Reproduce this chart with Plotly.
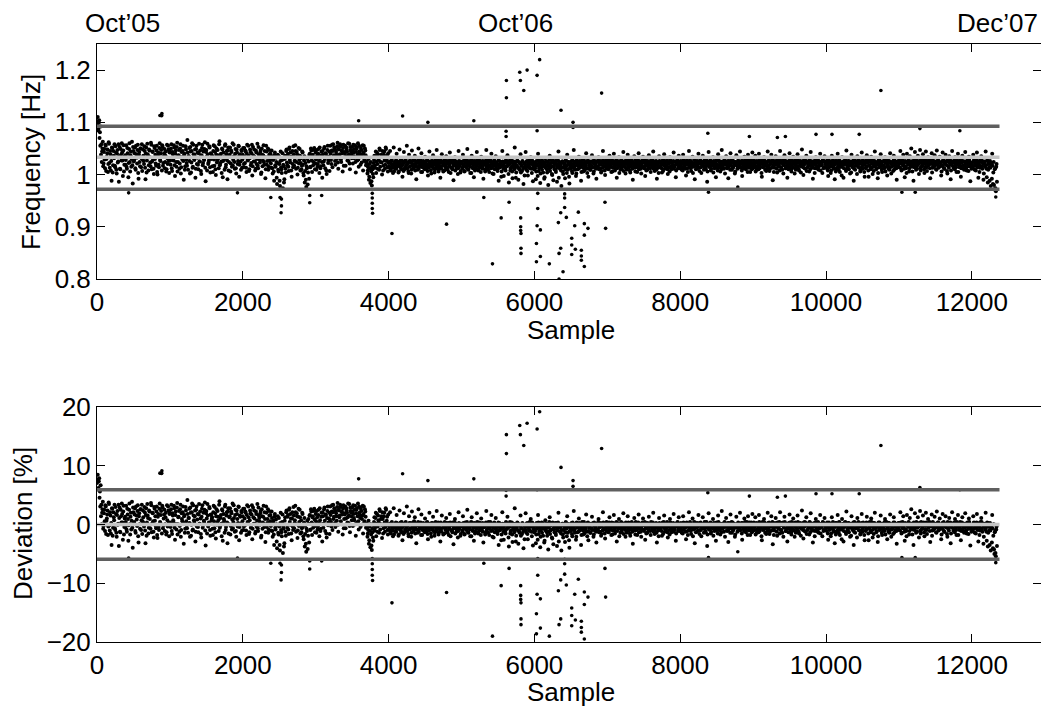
import plotly.graph_objects as go

# ---------------- data ----------------
# Frequency readings of the dense band, stored as the offset from 1 Hz in mHz
# (f = 1 + v/1000). Set A: samples 0, 10, 20, ...; set B: samples 5, 15, 25, ...
# One list per 1000 samples.
band_a_00k = [96, 110, 87, 104, 81, 92, 58, 44, 63, 21,
              49, 12, 55, 30, 41, 5, 62, 22, 45, 8,
              -12, 51, 18, 36, 58, 14, 42, 2, 47, 25,
              -14, 53, 10, 38, 60, 27, 46, 6, 34, 19,
              56, 11, 41, -5, 49, 24, 37, 15, 63, -17,
              45, 28, 52, 9, 39, 21, 57, -8, 43, 16,
              50, 31, 7, 48, 26, 54, 13, 40, 4, 59,
              35, 18, 46, 23, 61, 10, 44, 29, 1, 51,
              38, 17, 55, 0, 42, 14, 60, 26, 47, 8,
              53, 22, 41, 12, 36, 6, 57, 20, 48, 3]
band_a_01k = [44, 19, 58, 7, 39, 27, 52, -3, 46, 15,
              61, 24, 37, 11, 50, 2, 43, 29, 55, -10,
              40, 16, 48, 22, 66, 9, 35, 26, 53, 4,
              45, 13, 57, 31, 38, -6, 49, 20, 42, 10,
              59, 25, 34, 1, 51, 18, 44, 28, 62, -13,
              47, 8, 39, 23, 54, 14, 41, 30, 36, 5,
              56, 17, 43, -1, 50, 27, 37, 12, 64, 21,
              40, 3, 48, 26, 33, 9, 58, 19, 45, -9,
              52, 24, 38, 6, 46, 15, 60, 28, 35, 11,
              49, 2, 42, 20, 55, -4, 39, 25, 47, 13]
band_a_02k = [38, 14, 51, 22, 44, 5, 57, 27, 36, 10,
              48, 18, 41, -2, 53, 25, 34, 8, 46, 20,
              59, 12, 39, 29, 43, 1, 50, 16, 37, 24,
              45, -7, 55, 19, 33, 9, 47, 26, 40, 13,
              35, 2, 30, -12, 42, 15, 24, -18, 38, 6,
              20, -22, 44, 10, 28, -26, 16, -9, 36, 4,
              48, 18, 40, 7, 52, 23, 34, -4, 45, 14,
              39, 26, 56, 11, 43, 0, 37, 21, 49, 8,
              31, 17, 42, 3, 27, -15, 22, -24, 12, -19,
              33, -8, 40, 15, 46, 5, 38, 24, 51, 10]
band_a_03k = [42, 9, 36, 20, 49, 3, 31, 16, 44, -6,
              38, 25, 53, 12, 40, 1, 47, 22, 34, 7,
              55, 28, 46, 14, 58, 37, 50, 19, 43, 30,
              61, 11, 48, 39, 54, 24, 45, 6, 57, 33,
              41, 17, 52, 44, 36, 26, 59, 10, 47, 38,
              53, 21, 42, 31, 56, 4, 49, 27, 60, 15,
              44, 35, 51, 23, 39, 8, 55, 29, 46, 18,
              25, 2, 14, -10, 20, -16, 6, -21, 10, -5,
              28, 13, 35, 3, 42, 20, 31, 9, 47, 24,
              38, 0, 33, 17, 44, 11, 52, 26, 37, 6]
band_a_04k = [22, 14, 45, 8, 26, 18, 3, 52, 20, 11,
              27, 40, 16, 24, 6, 48, 19, 13, 28, -4,
              21, 43, 10, 25, 17, 55, 23, 7, 38, 15,
              26, 2, 46, 20, 12, 29, 36, 18, -9, 24,
              9, 50, 22, 16, 27, 41, 5, 19, 25, 13,
              34, 21, 11, 28, -2, 17, 44, 23, 8, 26,
              15, 37, 20, 4, 24, 12, 47, 18, 27, 10,
              22, -6, 16, 39, 25, 6, 19, 28, 14, 35,
              21, 9, 26, 17, 42, 3, 23, 13, 27, -11,
              18, 33, 24, 11, 20, 1, 45, 16, 25, 7]
band_a_05k = [24, 13, 38, 19, 6, 27, 16, 22, 49, 10,
              25, 18, 3, 28, 36, 14, 21, -5, 26, 11,
              17, 43, 23, 8, 27, 15, 20, 34, 12, 26,
              -8, 19, 24, 9, 47, 22, 16, 28, 5, 18,
              25, 40, 13, 21, 1, 27, 17, 35, 23, 10,
              19, -12, 26, 14, 22, 6, 45, 18, -3, 24,
              11, 28, 16, 37, 20, -15, 25, 8, 13, 27,
              -7, 21, 15, 52, 24, 4, 18, 26, -10, 12,
              22, 39, 17, 7, 25, -18, 14, 20, 43, 9,
              26, -2, 19, 13, 23, 33, 11, 27, -13, 16]
band_a_06k = [21, 12, -9, 26, 17, 40, 7, 23, -16, 14,
              27, 19, 4, 24, -5, 31, 16, 10, 25, -20,
              18, 36, 13, 22, 1, 27, -11, 15, 20, 8,
              26, -14, 17, 44, 23, 11, 19, -22, 25, 6,
              14, 21, -7, 28, 16, 38, 9, 24, -17, 18,
              12, 26, 3, 20, 47, 15, 23, -3, 27, 10,
              19, 34, 13, 25, -12, 17, 22, 6, 28, 14,
              21, 41, 11, 26, -4, 18, 24, 9, 16, 37,
              23, 2, 27, 13, 20, -8, 25, 15, 33, 19,
              11, 26, 7, 22, 45, 17, 24, -1, 14, 28]
band_a_07k = [18, 25, 11, 36, 22, 15, 27, 6, 20, 40,
              13, 24, 19, -6, 26, 16, 33, 21, 9, 28,
              14, 23, 43, 17, 25, 2, 20, 12, 38, 27,
              19, 8, 24, 15, 26, -10, 21, 35, 13, 28,
              18, 5, 23, 41, 16, 25, 11, 20, 27, 34,
              14, 22, -3, 26, 17, 9, 24, 37, 19, 12,
              28, 21, 15, 44, 23, 7, 18, 26, -8, 20,
              13, 35, 25, 16, 22, 4, 27, 19, 39, 11,
              24, 17, 28, 1, 21, 14, 33, 26, 10, 23,
              18, 42, 15, 25, -5, 20, 27, 12, 36, 22]
band_a_08k = [16, 26, 9, 21, 38, 14, 24, 19, -2, 27,
              12, 22, 45, 17, 25, 7, 20, 34, 15, 28,
              -9, 23, 18, 11, 26, 40, 21, 14, 27, 3,
              19, 36, 24, 16, 22, 10, 28, -14, 20, 43,
              15, 25, 8, 23, 17, 33, 26, 12, 21, -5,
              27, 18, 39, 14, 24, 6, 20, 47, 16, 25,
              11, 28, 22, 35, 13, 19, -7, 26, 17, 41,
              23, 9, 27, 15, 21, 2, 24, 37, 18, 12,
              25, 20, 44, 14, 26, -3, 22, 16, 34, 28,
              10, 19, 24, 38, 13, 27, 5, 21, 17, 42]
band_a_09k = [20, 27, 14, 36, 23, 9, 25, 17, 40, 12,
              26, 21, -4, 28, 15, 33, 19, 24, 7, 22,
              44, 16, 27, 11, 20, 38, 25, -11, 18, 13,
              26, 35, 21, 4, 24, 17, 28, 45, 14, 22,
              9, 27, 19, 37, 25, 12, 23, -6, 16, 26,
              41, 20, 10, 28, 15, 34, 22, 2, 27, 18,
              13, 39, 24, 8, 21, 26, 16, 48, 23, -1,
              19, 28, 11, 36, 25, 14, 22, 6, 27, 43,
              17, 24, -8, 20, 26, 12, 33, 23, 15, 28,
              9, 21, 40, 18, 25, 3, 27, 14, 35, 22]
band_a_10k = [24, 12, 19, -3, 27, 16, 22, 8, 36, 25,
              14, 20, -9, 26, 11, 23, 40, 17, 28, 5,
              21, 15, 33, 24, -6, 19, 27, 10, 46, 22,
              13, 26, 18, 2, 25, 38, 16, 21, -12, 28,
              9, 23, 17, 35, 26, 14, 20, 6, 24, 42,
              11, 27, 19, -4, 22, 15, 37, 25, 8, 18,
              28, 13, 34, 21, 1, 26, 16, 44, 23, 10,
              19, -7, 27, 14, 24, 39, 20, 5, 25, 17,
              12, 33, 22, 28, -2, 18, 26, 9, 41, 21,
              15, 24, 7, 36, 27, 13, 20, -10, 23, 16]
band_a_11k = [26, 14, 45, 21, 9, 28, 38, 17, -5, 24,
              12, 40, 22, 27, 6, 35, 19, 50, 25, 15,
              -12, 23, 43, 18, 28, 11, 36, 20, 26, 47,
              8, 24, 16, 39, 27, 3, 21, 44, 14, 25,
              33, 19, 28, -7, 22, 41, 13, 26, 17, 37,
              24, 10, 46, 20, 27, 15, 34, 23, -2, 18,
              42, 26, 11, 21, 38, 25, 7, 28, 16, 35,
              22, -9, 19, 45, 24, 13, 27, 33, 17, 5,
              26, 40, 20, 14, 28, -4, 23, 36, 18, 11,
              25, 43, 21, 8, 27, 16, 34, 24, -13, 19]
band_a_12k = [22, 15, 38, 27, 9, 24, 18, 42, 26, -6,
              20, 13, 28, 35, 16, 23, -10, 25, 19, 44,
              11, 27, -15, 21, 14, 26, -22, 18, 40, -18,
              24, -28, 12, -32, 20]

band_b_00k = [102, 85, 99, 70, 55, 38, 24, 50, 16, 43,
              29, 57, 7, 34, 48, 20, 59, 13, 39, 26,
              52, 4, 45, 31, 17, 54, 9, 40, 23, 58,
              35, 11, 49, 27, 42, -3, 56, 19, 37, 28,
              15, 51, 33, 22, 60, 6, 44, 30, 18, 53,
              25, 41, 12, 55, 32, 47, 3, 38, 24, 50,
              14, 58, 29, 36, 20, 45, -9, 52, 27, 39,
              8, 48, 33, 16, 57, 25, 43, 11, 54, 30,
              21, 46, 5, 37, 19, 51, 28, 40, 113, 56,
              17, 34, 49, 24, 44, 10, 31, 55, 26, 42]
band_b_01k = [27, 50, 12, 43, 31, 56, 18, 40, 24, 53,
              6, 36, 47, 21, 58, 14, 33, 45, 26, 38,
              9, 54, 29, 17, 42, 35, 51, 2, 44, 23,
              60, 15, 39, 28, 48, 11, 55, 32, 19, 41,
              25, 46, 7, 37, 57, 22, 30, 49, 13, 43,
              34, 59, 20, 27, 52, 4, 40, 33, 16, 45,
              29, 54, 10, 38, 23, 47, 31, 58, 18, 35,
              25, 50, -5, 42, 30, 55, 14, 39, 27, 46,
              8, 36, 52, 21, 43, 32, 17, 57, 24, 40,
              12, 48, 33, 26, 54, 19, 37, 9, 45, 29]
band_b_02k = [51, 20, 34, 46, 13, 40, 28, 55, 7, 31,
              43, 22, 57, 16, 36, 48, 25, 11, 42, 30,
              17, 53, 35, 23, 47, 4, 38, 27, 56, 19,
              33, 10, 44, 26, 50, 15, 39, 29, 21, 46,
              12, 28, 6, 37, 18, 32, -6, 22, 9, 35,
              -12, 26, 14, 3, 41, 19, -15, 30, 11, 45,
              23, 37, 15, 49, 28, 42, 8, 34, 20, 54,
              17, 31, 45, 24, 38, 13, 51, 28, 36, 22,
              10, 44, 19, -2, 35, 7, -10, 16, 30, 4,
              25, 39, 14, 50, 27, 36, 18, 47, 32, 21]
band_b_03k = [29, 47, 15, 40, 26, 52, 12, 37, 24, 45,
              18, 50, 30, 41, 8, 35, 55, 27, 44, 32,
              40, 20, 57, 45, 33, 52, 26, 47, 38, 54,
              23, 49, 36, 58, 29, 46, 41, 51, 17, 43,
              55, 34, 48, 27, 60, 39, 21, 53, 44, 31,
              46, 57, 35, 49, 24, 43, 52, 38, 29, 55,
              40, 19, 47, 33, 56, 42, 26, 50, 37, 22,
              18, 8, 30, -4, 12, 24, -13, 16, 1, 22,
              36, 18, 44, 25, 11, 39, 28, 50, 15, 33,
              23, 45, 8, 38, 27, 19, 49, 30, 14, 41]
band_b_04k = [16, 25, 9, 21, 28, 13, 19, 6, 24, 17,
              11, 26, 20, 4, 23, 15, 27, 10, 18, 22,
              7, 25, 14, 28, 19, 12, 21, 3, 26, 16,
              23, 9, 18, 27, 13, 20, 8, 25, 15, 22,
              28, 11, 17, 24, 5, 21, 14, 26, 19, 10,
              23, 16, 27, 7, 20, 13, 25, 18, 2, 22,
              26, 12, 19, 9, 28, 15, 21, 24, 6, 17,
              14, 27, 11, 23, 18, 25, 8, 20, 16, 26,
              12, 22, 5, 19, 27, 14, 24, 10, 21, 17,
              28, 8, 25, 15, 22, 12, 26, 19, 4, 23]
band_b_05k = [20, 11, 26, 17, 7, 23, 14, 28, 19, 9,
              24, 15, 21, 3, 27, 12, 18, 25, 8, 22,
              16, 28, 10, 20, 13, 26, 5, 23, 17, 11,
              25, 19, 6, 27, 14, 21, 9, 24, 16, 28,
              12, 22, 2, 18, 26, 10, 23, 15, 20, 7,
              27, 13, 19, 24, -4, 17, 25, 11, 21, 14,
              8, 26, 16, 22, 1, 19, 28, 12, 23, 6,
              18, 25, 10, 20, -6, 15, 27, 13, 24, 9,
              21, 4, 17, 26, 11, 22, -2, 19, 14, 25,
              7, 23, 16, 28, 12, 20, 3, 24, 18, 10]
band_b_06k = [15, 24, 6, 20, -3, 27, 12, 18, 2, 23,
              9, 26, 16, -8, 21, 13, 25, 4, 19, 11,
              28, 7, 22, 15, -1, 24, 17, 10, 26, 5,
              20, 13, 27, -6, 18, 23, 8, 14, 25, 1,
              21, 16, 10, 26, 3, 19, 24, -4, 12, 22,
              17, 7, 27, 14, 20, 9, 25, 2, 18, 23,
              11, 26, 15, 21, 5, 28, 13, 19, 8, 24,
              16, 22, 3, 27, 12, 20, 9, 25, 17, 14,
              26, 6, 21, 18, 11, 24, 15, 28, 10, 22,
              19, 4, 25, 13, 27, 16, 8, 23, 20, 12]
band_b_07k = [22, 10, 27, 15, 19, 5, 24, 13, 26, 17,
              8, 21, 28, 12, 23, 16, 3, 25, 18, 11,
              26, 20, 7, 24, 14, 27, 9, 22, 17, 13,
              25, 4, 19, 28, 11, 23, 16, 21, 6, 26,
              14, 20, 27, 10, 24, 18, 2, 22, 15, 25,
              12, 28, 17, 8, 21, 26, 13, 19, 24, 5,
              23, 16, 27, 11, 20, 14, 25, 9, 22, 18,
              3, 26, 15, 21, 12, 24, 7, 28, 17, 19,
              13, 25, 10, 23, 20, 6, 27, 16, 22, 14,
              26, 11, 18, 24, 8, 21, 28, 15, 19, 12]
band_b_08k = [25, 14, 20, 8, 27, 17, 23, 11, 19, 26,
              5, 22, 15, 28, 12, 24, 18, 3, 21, 16,
              27, 10, 25, 19, 13, 22, 7, 26, 14, 20,
              24, 17, 9, 28, 12, 23, 18, 6, 25, 15,
              21, 27, 11, 19, 24, 4, 22, 16, 26, 13,
              20, 8, 28, 18, 14, 25, 10, 23, 17, 21,
              27, 2, 19, 24, 12, 26, 15, 22, 9, 20,
              28, 16, 13, 25, 18, 6, 23, 21, 11, 27,
              17, 24, 14, 20, 8, 26, 19, 12, 25, 22,
              15, 28, 5, 21, 18, 24, 13, 27, 10, 20]
band_b_09k = [13, 24, 19, 6, 26, 15, 22, 10, 28, 17,
              21, 3, 25, 14, 20, 27, 9, 23, 16, 12,
              26, 18, 7, 24, 21, 13, 28, 15, 5, 22,
              19, 25, 11, 27, 16, 20, 8, 24, 14, 26,
              22, 2, 18, 28, 12, 25, 17, 21, 10, 23,
              27, 15, 6, 20, 24, 13, 26, 19, 9, 22,
              16, 28, 11, 25, 18, 4, 23, 20, 14, 27,
              12, 21, 26, 7, 24, 17, 19, 28, 10, 22,
              15, 25, 13, 20, 3, 27, 18, 23, 11, 26,
              16, 21, 8, 24, 19, 28, 12, 25, 14, 20]
band_b_10k = [18, 27, 8, 22, 14, 25, 3, 20, 16, 28,
              11, 24, 19, 6, 26, 13, 21, 9, 27, 15,
              23, -2, 18, 25, 12, 20, 28, 7, 22, 16,
              26, 10, 19, 24, 4, 21, 14, 27, 11, 23,
              17, 25, 1, 20, 28, 13, 22, 8, 26, 15,
              19, 24, 5, 21, 12, 27, 16, 23, -4, 18,
              25, 10, 28, 14, 20, 7, 26, 17, 22, 12,
              24, 3, 19, 27, 15, 21, 9, 25, 18, 13,
              28, 6, 23, 16, 20, 11, 26, 14, 24, 2,
              21, 17, 27, 9, 22, 19, 12, 25, 15, 26]
band_b_11k = [21, 13, 27, 8, 24, 17, 20, 11, 26, 15,
              3, 23, 19, 28, 12, 22, 16, 25, 6, 20,
              27, 14, 21, 9, 26, 18, 24, 1, 22, 13,
              28, 16, 19, 25, 10, 23, 15, 27, 7, 21,
              18, 26, 12, 24, 20, 4, 28, 14, 22, 17,
              25, 9, 19, 27, 13, 23, 16, 21, 6, 26,
              15, 28, 11, 20, 24, 18, 2, 25, 13, 22,
              27, 8, 19, 23, 16, 26, 10, 21, 14, 28,
              20, 5, 24, 17, 22, 12, 27, 15, 25, 9,
              18, 23, 13, 26, 20, 7, 28, 16, 21, 11]
band_b_12k = [23, 12, 26, 17, 20, 8, 27, 14, 22, 19,
              5, 25, 16, 28, 11, 21, 2, 24, 15, 18,
              -5, 26, 9, 20, -12, 13, 22, -8, 17, 4,
              -20, 10, -26, 15, -14]
band_step = 10        # samples between consecutive readings of one set
band_b_offset = 5     # set B starts 5 samples after set A

# Isolated readings outside the band: sample number and frequency [Hz]
outlier_sample = [890, 863, 434, 1927, 2384, 2511, 2530, 2530, 2525, 2918,
                  2918, 3082, 3589, 3776, 3776, 3776, 3776, 3780, 4046, 4192,
                  4539, 4795, 5169, 5306, 5425, 5544, 5612, 5612, 5616, 5616,
                  5653, 5799, 5808, 5812, 5812, 5812, 5816, 5816, 5816, 5854,
                  5900, 6028, 6028, 6037, 6037, 6037, 6046, 6046, 6072, 6082,
                  6082, 6205, 6329, 6338, 6338, 6361, 6361, 6365, 6393, 6415,
                  6415, 6415, 6438, 6512, 6512, 6512, 6530, 6530, 6553, 6562,
                  6603, 6644, 6644, 6644, 6685, 6685, 6685, 6735, 6922, 6968,
                  6977, 8379, 8388, 8790, 8949, 9333, 9443, 9863, 10082, 10456,
                  10753, 11041, 11224, 11288, 11836, 12329]
outlier_freq = [1.117, 1.113, 0.965, 0.965, 0.956, 0.956, 0.953, 0.940, 0.927, 0.960,
                0.946, 0.960, 1.103, 0.964, 0.955, 0.945, 0.935, 0.926, 0.887, 1.112,
                1.100, 0.905, 1.103, 0.956, 0.829, 0.917, 1.083, 1.073, 1.180, 1.147,
                0.947, 1.196, 1.180, 0.917, 0.900, 0.893, 0.887, 0.859, 0.849, 1.161,
                1.200, 0.868, 0.833, 1.190, 1.084, 0.902, 0.964, 0.935, 1.220, 0.894,
                0.843, 0.829, 0.908, 0.849, 0.800, 0.859, 0.927, 1.123, 0.814, 0.937,
                0.963, 0.955, 0.918, 0.878, 0.865, 0.847, 1.100, 1.090, 0.902, 0.857,
                0.928, 0.855, 0.844, 0.836, 0.884, 0.906, 0.824, 0.897, 1.156, 0.947,
                0.897, 1.079, 0.966, 0.976, 1.073, 1.071, 1.073, 1.077, 1.077, 1.077,
                1.161, 0.966, 0.966, 1.088, 1.084, 0.957]

deviation_reference_hz = 1.0235        # frequency that the deviation is taken from
freq_mean_line = 1.033                 # light grey line, top panel
freq_limit_lines = [1.0925, 0.972]     # dark grey lines, top panel
dev_mean_line = 0.0                    # light grey line, bottom panel
dev_limit_lines = [5.9, -5.9]          # dark grey lines, bottom panel
line_samples = [0, 12380]              # extent of the reference lines

x_tickvals = [0, 2000, 4000, 6000, 8000, 10000, 12000]
freq_tickvals = [0.8, 0.9, 1.0, 1.1, 1.2]
freq_ticktext = ["0.8", "0.9", "1", "1.1", "1.2"]
dev_tickvals = [-20, -10, 0, 10, 20]
date_labels = ["Oct\u201905", "Oct\u201906", "Dec\u201907"]

# ---------------- assemble ----------------
band_a = (band_a_00k + band_a_01k + band_a_02k + band_a_03k + band_a_04k +
          band_a_05k + band_a_06k + band_a_07k + band_a_08k + band_a_09k +
          band_a_10k + band_a_11k + band_a_12k)
band_b = (band_b_00k + band_b_01k + band_b_02k + band_b_03k + band_b_04k +
          band_b_05k + band_b_06k + band_b_07k + band_b_08k + band_b_09k +
          band_b_10k + band_b_11k + band_b_12k)
band_sample = ([i * band_step for i in range(len(band_a))] +
               [i * band_step + band_b_offset for i in range(len(band_b))])
band_freq = [1.0 + v / 1000.0 for v in band_a + band_b]

def to_dev(freqs):
    return [(f / deviation_reference_hz - 1.0) * 100.0 for f in freqs]

W, H = 1041, 707
L = 97
px_per_sample = 0.0729
x_max = (W - L) / px_per_sample

def py(p):  # pixel row -> paper y
    return 1 - p / H

def px(p):  # pixel column -> paper x
    return (p - L) / (W - L)

FONT = "Liberation Sans, Arial, Helvetica, sans-serif"
DARK = "#5f5f5f"
LIGHT = "#c4c4c4"

fig = go.Figure()

band_marker = dict(color="black", size=4, line=dict(width=0))
out_marker = dict(color="black", size=3.6, line=dict(width=0))
for xa, ya, conv in (("x", "y", lambda v: v), ("x2", "y2", to_dev)):
    fig.add_trace(go.Scatter(x=band_sample, y=conv(band_freq), mode="markers",
                             marker=band_marker, xaxis=xa, yaxis=ya,
                             showlegend=False, hoverinfo="skip"))
    fig.add_trace(go.Scatter(x=outlier_sample, y=conv(outlier_freq), mode="markers",
                             marker=out_marker, xaxis=xa, yaxis=ya,
                             showlegend=False, hoverinfo="skip"))

for val in freq_limit_lines:
    fig.add_trace(go.Scatter(x=line_samples, y=[val, val], mode="lines",
                             line=dict(color=DARK, width=3.5), xaxis="x", yaxis="y",
                             showlegend=False, hoverinfo="skip"))
fig.add_trace(go.Scatter(x=line_samples, y=[freq_mean_line] * 2, mode="lines",
                         line=dict(color=LIGHT, width=3.5), xaxis="x", yaxis="y",
                         showlegend=False, hoverinfo="skip"))
for val in dev_limit_lines:
    fig.add_trace(go.Scatter(x=line_samples, y=[val, val], mode="lines",
                             line=dict(color=DARK, width=3.5), xaxis="x2", yaxis="y2",
                             showlegend=False, hoverinfo="skip"))
fig.add_trace(go.Scatter(x=line_samples, y=[dev_mean_line] * 2, mode="lines",
                         line=dict(color=LIGHT, width=3.5), xaxis="x2", yaxis="y2",
                         showlegend=False, hoverinfo="skip"))

axis_common = dict(showline=True, linecolor="black", linewidth=1, mirror="ticks",
                   ticks="inside", ticklen=8, tickwidth=1, tickcolor="black",
                   showgrid=False, zeroline=False, automargin=False)
xfont = dict(family=FONT, size=26, color="black")
yfont = dict(family=FONT, size=26, color="black")

fig.update_layout(
    template="none",
    width=W, height=H,
    margin=dict(l=L, r=0, t=0, b=0, pad=0, autoexpand=False),
    paper_bgcolor="white", plot_bgcolor="white",
    xaxis=dict(axis_common, domain=[0, 1], anchor="y", range=[0, x_max],
               tickvals=x_tickvals, ticktext=[str(v) for v in x_tickvals],
               tickfont=xfont),
    yaxis=dict(axis_common, domain=[py(279), py(44)], anchor="x", range=[0.8, 1.25],
               tickvals=freq_tickvals, ticktext=freq_ticktext, tickfont=yfont),
    xaxis2=dict(axis_common, domain=[0, 1], anchor="y2", range=[0, x_max],
                tickvals=x_tickvals, ticktext=[str(v) for v in x_tickvals],
                tickfont=xfont),
    yaxis2=dict(axis_common, domain=[py(642), py(407)], anchor="x2", range=[-20, 20],
                tickvals=dev_tickvals,
                ticktext=["\u221220", "\u221210", "0", "10", "20"], tickfont=yfont),
)

ann_font = dict(family=FONT, size=26, color="black")
anns = [
    dict(text="Sample", x=px(571), y=py(330), xref="paper", yref="paper",
         xanchor="center", yanchor="middle", showarrow=False, font=ann_font),
    dict(text="Sample", x=px(571), y=py(692), xref="paper", yref="paper",
         xanchor="center", yanchor="middle", showarrow=False, font=ann_font),
    dict(text="Frequency [Hz]", x=px(31), y=py(162), xref="paper", yref="paper",
         xanchor="center", yanchor="middle", textangle=-90, showarrow=False, font=ann_font),
    dict(text="Deviation [%]", x=px(23), y=py(524), xref="paper", yref="paper",
         xanchor="center", yanchor="middle", textangle=-90, showarrow=False, font=ann_font),
]
for lab, cx in zip(date_labels, [122, 515, 997]):
    anns.append(dict(text=lab, x=px(cx), y=py(23), xref="paper", yref="paper",
                     xanchor="center", yanchor="middle", showarrow=False, font=ann_font))
fig.update_layout(annotations=anns)

fig.write_html("out.html")
